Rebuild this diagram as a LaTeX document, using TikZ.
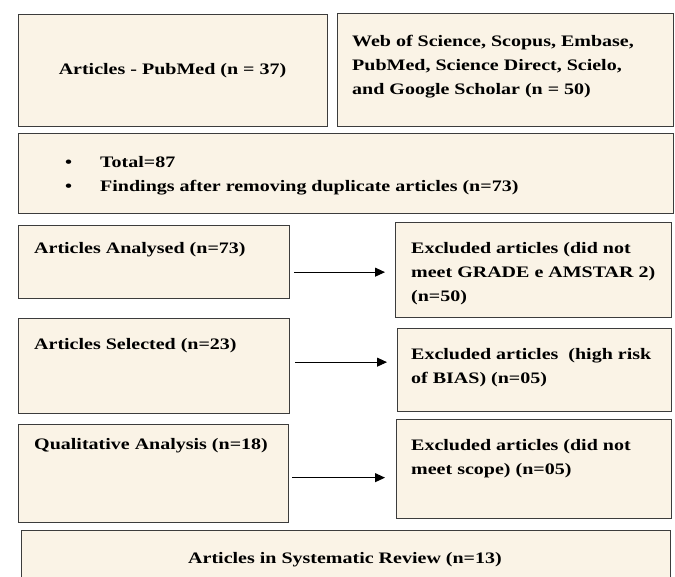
\documentclass[tikz,border=0pt]{standalone}
\usepackage{fontspec}
\setmainfont{Liberation Serif}[FakeStretch=1.25]
\usetikzlibrary{arrows.meta,calc}
\definecolor{boxfill}{RGB}{250,243,230}
\definecolor{boxline}{RGB}{60,60,60}
\tikzset{
  box/.style={draw=boxline,line width=1.3pt,fill=boxfill,anchor=north west,inner sep=0pt},
  txt/.style={anchor=base west,inner sep=0pt,align=left,font=\fontsize{16}{23.6}\selectfont\bfseries},
  arr/.style={line width=1pt,-{Triangle[length=10pt,width=9pt]}}
}
\newcommand{\bx}[5]{\node[box,minimum width=#3pt,minimum height=#4pt] (#5) at (#1pt,-#2pt) {};}
\begin{document}
\begin{tikzpicture}[x=1pt,y=1pt]
\useasboundingbox (0,0) rectangle (675,-576);
\bx{18}{14}{309}{112}{pub}
\bx{337}{13}{336}{113}{web}
\bx{18}{133}{655}{80}{tot}
\bx{18}{225}{271}{73}{ana}
\bx{395}{222}{276}{95}{exa}
\bx{18}{318}{271}{95}{sel}
\bx{397}{328}{274}{83}{exb}
\bx{18}{424}{270}{98}{qua}
\bx{396}{419}{275}{99}{exc}
\bx{21}{530}{649}{50}{rev}
\node[anchor=base,inner sep=0pt,font=\fontsize{16}{23.6}\selectfont\bfseries] (tpub) at (172.5,-74) {Articles - PubMed (n = 37)};
\node[txt] (tweb) at (352,-94) {Web of Science, Scopus, Embase,\\PubMed, Science Direct, Scielo,\\and Google Scholar (n = 50)};
\node[txt] (btot) at (65,-191) {\textbullet\\\textbullet};
\node[txt] (ttot) at (100,-191) {Total=87\\Findings after removing duplicate articles (n=73)};
\node[txt] (tana) at (34,-253) {Articles Analysed (n=73)};
\node[txt] (texa) at (411,-301) {Excluded articles (did not\\meet GRADE e AMSTAR 2)\\(n=50)};
\node[txt] (tsel) at (34,-349) {Articles Selected (n=23)};
\node[txt] (texb) at (411,-383) {Excluded articles \ (high risk\\of BIAS) (n=05)};
\node[txt] (tqua) at (34,-449) {Qualitative Analysis (n=18)};
\node[txt] (texc) at (411,-474) {Excluded articles (did not\\meet scope) (n=05)};
\node[anchor=base,inner sep=0pt,font=\fontsize{16}{23.6}\selectfont\bfseries] (trev) at (345,-563) {Articles in Systematic Review (n=13)};
\draw[arr,shorten <=4pt,shorten >=10pt] ([yshift=-2pt]ana.east |- exa.west) -- ([yshift=-2pt]exa.west);
\draw[arr,shorten <=5pt,shorten >=10pt] ([yshift=8pt]sel.east |- exb.west) -- ([yshift=8pt]exb.west);
\draw[arr,shorten <=3pt,shorten >=11pt] ([yshift=-8.5pt]qua.east |- exc.west) -- ([yshift=-8.5pt]exc.west);
\end{tikzpicture}
\end{document}
